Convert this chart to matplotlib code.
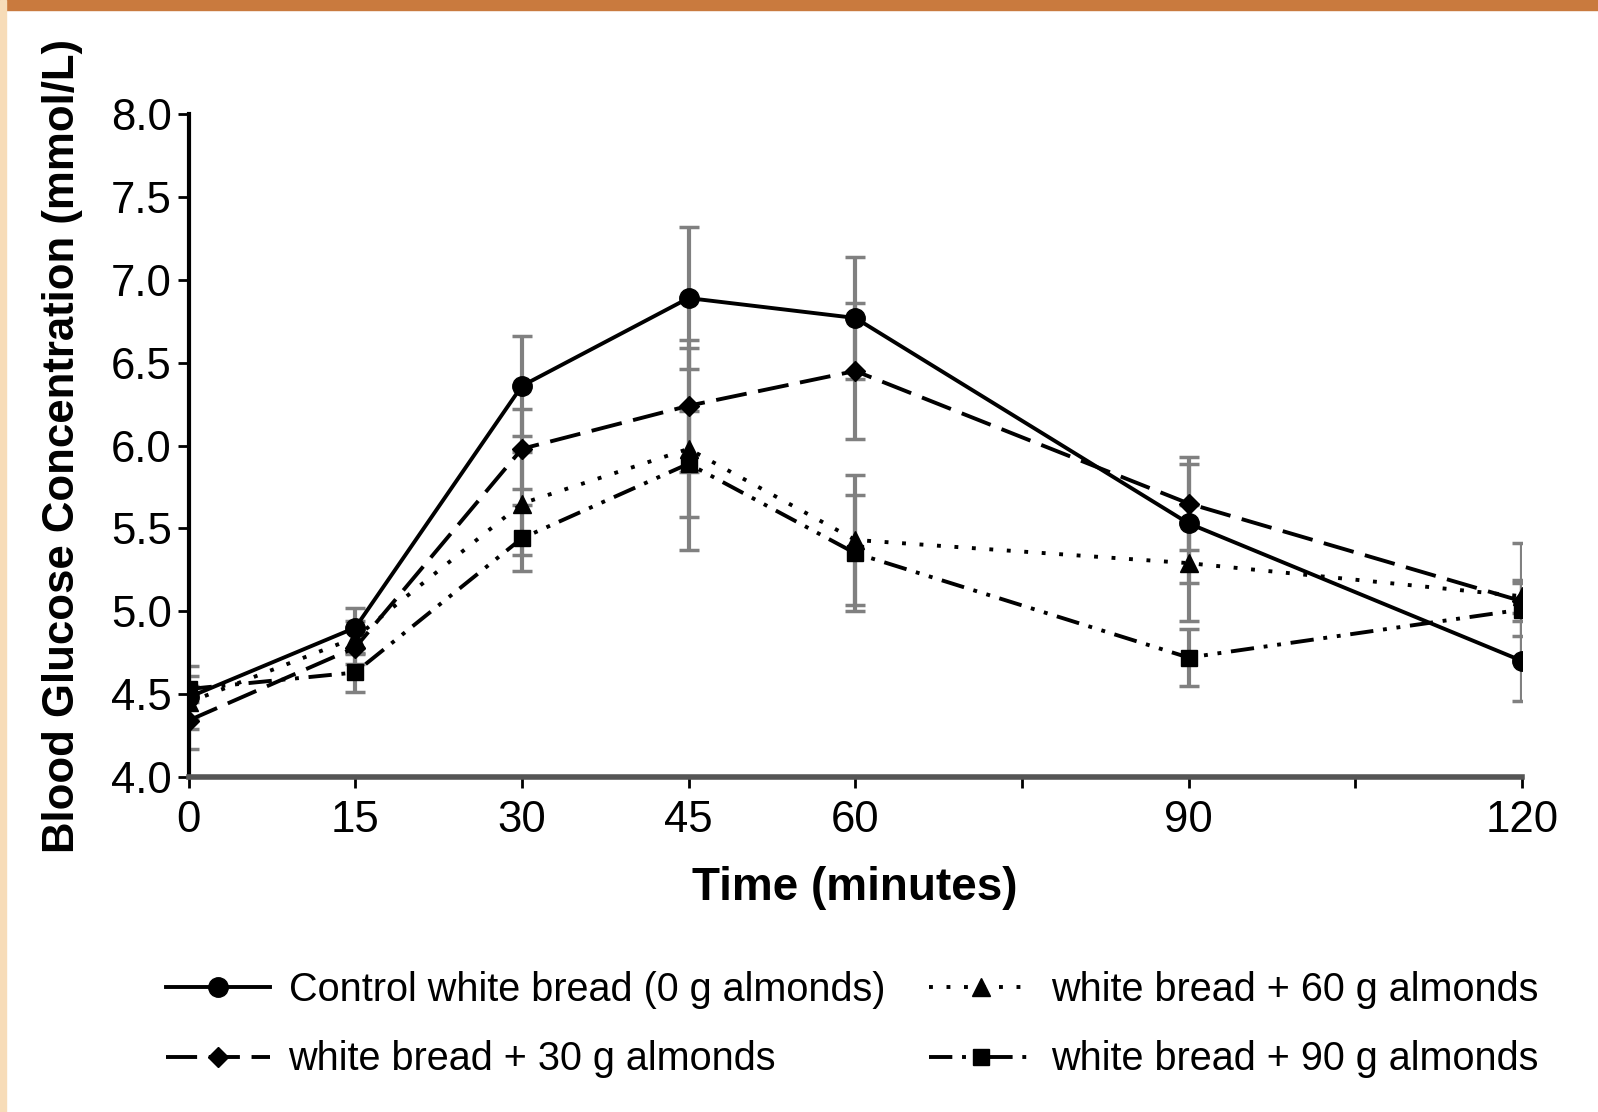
import matplotlib
matplotlib.use("Agg")
import matplotlib.pyplot as plt
from matplotlib.patches import Rectangle

plt.rcParams['font.family'] = ['Liberation Sans', 'DejaVu Sans']

# time points (minutes)
time = [0, 15, 30, 45, 60, 90, 120]
tick_labels = ['0', '15', '30', '45', '60', '', '90', '', '120']

# mean blood glucose (mmol/L) and error bars
control = [4.48, 4.90, 6.36, 6.89, 6.77, 5.53, 4.70]
control_err = [0.19, 0.12, 0.30, 0.43, 0.37, 0.36, 0.24]
almonds30 = [4.34, 4.78, 5.98, 6.24, 6.45, 5.65, 5.06]
almonds30_err = [0.17, 0.10, 0.24, 0.40, 0.41, 0.28, 0.35]
almonds60 = [4.45, 4.84, 5.65, 5.98, 5.43, 5.29, 5.09]
almonds60_err = [0.10, 0.10, 0.31, 0.61, 0.39, 0.35, 0.10]
almonds90 = [4.53, 4.63, 5.44, 5.89, 5.35, 4.72, 5.01]
almonds90_err = [0.08, 0.12, 0.20, 0.32, 0.35, 0.17, 0.16]

series = [
    ('Control white bread (0 g almonds)', control, control_err, 'o', 14, '-'),
    ('white bread + 30 g almonds', almonds30, almonds30_err, 'D', 10.5, (0, (8, 3))),
    ('white bread + 60 g almonds', almonds60, almonds60_err, '^', 13, (0, (1, 3.5))),
    ('white bread + 90 g almonds', almonds90, almonds90_err, 's', 11.5, (0, (6, 2.5, 1, 2.5, 1, 2.5))),
]

fig = plt.figure(figsize=(15.98, 11.12), dpi=100)
ax = fig.add_axes([0.118, 0.3014, 0.8344, 0.5959])

for label, vals, err, mk, ms, ls in series:
    ax.errorbar(time, vals, yerr=err, fmt='none', ecolor='#808080',
                elinewidth=3, capsize=7, capthick=2.5, zorder=2)
    ax.plot(time, vals, color='black', linestyle=ls, linewidth=2.8,
            marker=mk, markersize=ms, markerfacecolor='black',
            markeredgecolor='black', label=label, zorder=3)

ax.set_xlim(0, 120)
ax.set_ylim(4.0, 8.0)
ax.set_xticks(range(0, 121, 15))
ax.set_xticklabels(tick_labels)
ax.set_yticks([4.0 + 0.5 * i for i in range(9)])
ax.set_yticklabels([f'{4.0 + 0.5 * i:.1f}' for i in range(9)])
ax.tick_params(axis='both', labelsize=31.5, length=8, width=2, direction='out')
ax.tick_params(axis='y', pad=4)
ax.tick_params(axis='x', pad=9)

for s in ['top', 'right']:
    ax.spines[s].set_visible(False)
ax.spines['left'].set_linewidth(3)
ax.spines['bottom'].set_linewidth(4)
ax.spines['bottom'].set_color('#555555')

ax.set_xlabel('Time (minutes)', fontsize=33, fontweight='bold', labelpad=18)
ax.set_ylabel('Blood Glucose Concentration (mmol/L)', fontsize=31.5,
              fontweight='bold', labelpad=20)

fig.legend(loc='upper left', bbox_to_anchor=(0.104, 0.127), ncol=2,
           frameon=False, fontsize=28.5, handlelength=2.63, handletextpad=0.46,
           columnspacing=1.1, labelspacing=0.8, borderpad=0, borderaxespad=0)

# photo crop edges of the original scan
fig.patches.append(Rectangle((0, 0.991), 1, 0.009, transform=fig.transFigure,
                             color='#c97a3e', zorder=0))
fig.patches.append(Rectangle((0, 0), 0.004, 1, transform=fig.transFigure,
                             color='#f7dcb8', zorder=0))

fig.savefig('out.png', dpi=100)
